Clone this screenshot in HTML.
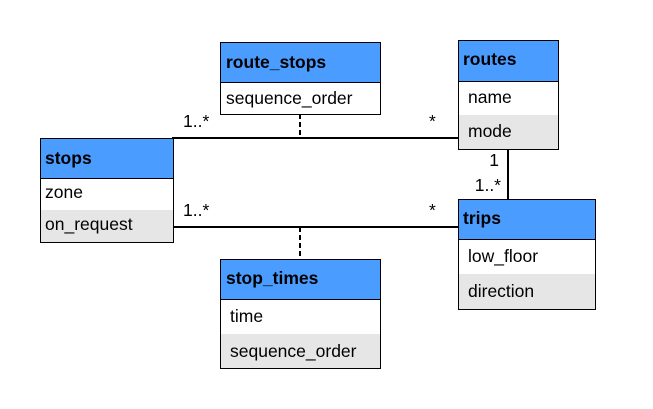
<!DOCTYPE html>
<html><head><meta charset="utf-8"><style>
html,body{margin:0;padding:0;background:#fff;}
svg{display:block;font-family:"Liberation Sans",Arial,sans-serif;font-size:17.5px;}
.h{font-weight:bold;}
</style></head><body>
<svg width="653" height="409" viewBox="0 0 653 409" xmlns="http://www.w3.org/2000/svg">
<g stroke="#000" stroke-width="2" fill="none">
<line x1="172" y1="138" x2="458" y2="138"/>
<line x1="172" y1="227" x2="458" y2="227"/>
<line x1="508" y1="149" x2="508" y2="199"/>
<line x1="300" y1="114" x2="300" y2="138" stroke-dasharray="5,3"/>
<line x1="300" y1="227" x2="300" y2="259" stroke-dasharray="5,3"/>
</g>
<!-- route_stops -->
<rect x="220.5" y="42.5" width="160" height="40" fill="#4a9cff" stroke="#000"/>
<rect x="220.5" y="82.5" width="160" height="32" fill="#fff" stroke="#000"/>
<text x="226" y="68" class="h">route_stops</text>
<text x="226" y="104">sequence_order</text>
<!-- stops -->
<rect x="40.5" y="138.5" width="133" height="104" fill="#e6e6e6" stroke="#000"/>
<rect x="41" y="139" width="132" height="39" fill="#4a9cff"/>
<rect x="41" y="179" width="132" height="31" fill="#fff"/>
<line x1="40" y1="178.5" x2="173" y2="178.5" stroke="#000"/>
<text x="45" y="164" class="h">stops</text>
<text x="45" y="198">zone</text>
<text x="45" y="230">on_request</text>
<!-- routes -->
<rect x="458.5" y="40.5" width="100" height="109" fill="#e6e6e6" stroke="#000"/>
<rect x="459" y="41" width="99" height="40" fill="#4a9cff"/>
<rect x="459" y="82" width="99" height="33" fill="#fff"/>
<line x1="458" y1="81.5" x2="558" y2="81.5" stroke="#000"/>
<text x="463" y="65" class="h">routes</text>
<text x="468" y="103">name</text>
<text x="468" y="137">mode</text>
<!-- trips -->
<rect x="458.5" y="199.5" width="137" height="110" fill="#e6e6e6" stroke="#000"/>
<rect x="459" y="200" width="136" height="39" fill="#4a9cff"/>
<rect x="459" y="240" width="136" height="34" fill="#fff"/>
<line x1="458" y1="239.5" x2="596" y2="239.5" stroke="#000"/>
<text x="463" y="224" class="h">trips</text>
<text x="468" y="262">low_floor</text>
<text x="468" y="297">direction</text>
<!-- stop_times -->
<rect x="220.5" y="259.5" width="160" height="109" fill="#e6e6e6" stroke="#000"/>
<rect x="221" y="260" width="159" height="39" fill="#4a9cff"/>
<rect x="221" y="300" width="159" height="34" fill="#fff"/>
<line x1="220" y1="299.5" x2="381" y2="299.5" stroke="#000"/>
<text x="226" y="284" class="h">stop_times</text>
<text x="230" y="322">time</text>
<text x="230" y="357">sequence_order</text>
<!-- labels -->
<text x="183" y="127">1..*</text>
<text x="429" y="127">*</text>
<text x="183" y="216">1..*</text>
<text x="429" y="216">*</text>
<text x="499" y="166" text-anchor="end">1</text>
<text x="501" y="191" text-anchor="end">1..*</text>
</svg>
</body></html>
